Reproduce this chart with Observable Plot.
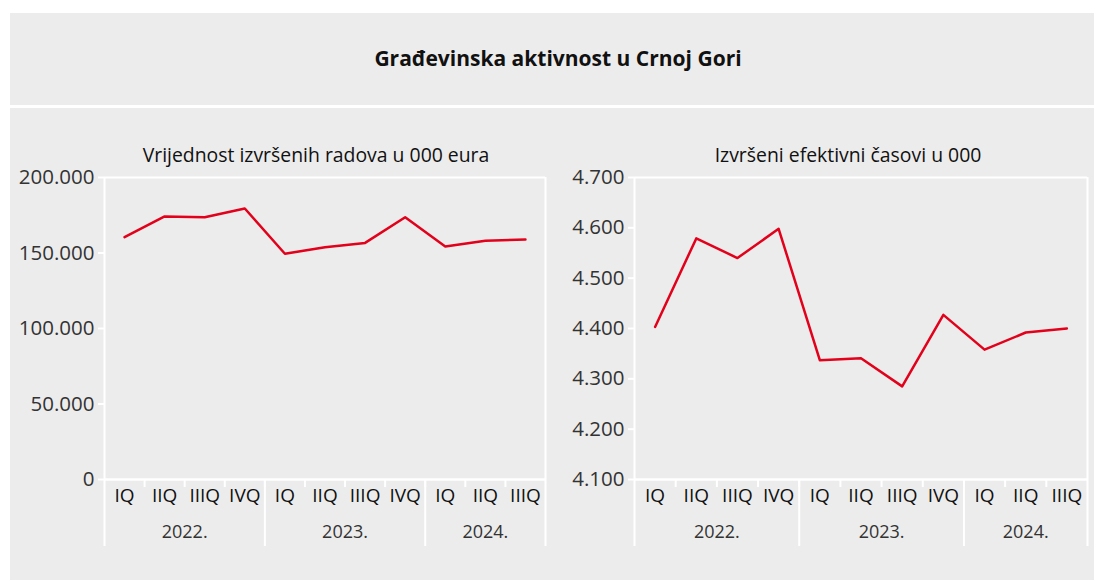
<!DOCTYPE html>
<html>
<head>
<meta charset="utf-8">
<script src="https://cdn.jsdelivr.net/npm/d3@7"></script>
<script src="https://cdn.jsdelivr.net/npm/@observablehq/plot@0.6"></script>
<style>
  html, body { margin: 0; padding: 0; background: #ffffff; }
  #page { position: relative; width: 1094px; height: 581px; overflow: hidden; font-family: 'Open Sans', sans-serif; }
  .box { position: absolute; background: #ececec; }
  .title { position: absolute; text-align: center; font-weight: 700; font-size: 21px; color: #111; }
  .sub { position: absolute; text-align: center; font-size: 19.4px; color: #111; }
  .chart { position: absolute; }
</style>
</head>
<body>
<div id="page">
  <div class="box" style="left:10px; top:13px; width:1084px; height:92px;"></div>
  <div class="box" style="left:10px; top:108px; width:1084px; height:472px;"></div>
  <div class="title" style="left:308px; width:500px; top:44px;">Građevinska aktivnost u Crnoj Gori</div>
  <div class="sub" style="left:66px; width:500px; top:141px;">Vrijednost izvršenih radova u 000 eura</div>
  <div class="sub" style="left:598px; width:500px; top:141px;">Izvršeni efektivni časovi u 000</div>
  <div id="left" class="chart" style="left:0px; top:165px;"></div>
  <div id="right" class="chart" style="left:560px; top:165px;"></div>
</div>
<script>
// ---- data ----
const quarters = ["IQ", "IIQ", "IIIQ", "IVQ", "IQ", "IIQ", "IIIQ", "IVQ", "IQ", "IIQ", "IIIQ"];
const yearOfQuarter = [0, 0, 0, 0, 1, 1, 1, 1, 2, 2, 2];
const years = ["2022.", "2023.", "2024."];
const vrijednostRadova = [160500, 174200, 173700, 179500, 149500, 153800, 156700, 173700, 154300, 158100, 158900];
const efektivniCasovi = [4403, 4579, 4540, 4598, 4337, 4341, 4285, 4427, 4358, 4392, 4400];
const ticksLeft = [0, 50000, 100000, 150000, 200000];
const ticksRight = [4100, 4200, 4300, 4400, 4500, 4600, 4700];

// ---- helpers ----
const n = quarters.length;
const fmt = d => d3.format(",")(d).replace(/,/g, ".");
const quarterBounds = d3.range(n - 1).map(i => i + 0.5);
const yearBounds = quarterBounds.filter(b => yearOfQuarter[b - 0.5] !== yearOfQuarter[b + 0.5]);
const yearRows = years.map((y, k) => ({
  y,
  c: d3.mean(d3.range(n).filter(i => yearOfQuarter[i] === k))
}));
const red = "#e2001a";

function makeChart(values, yDomain, yTicks, width, marginLeft, marginRight) {
  const height = 390, marginTop = 12, marginBottom = 76;
  const plotH = height - marginTop - marginBottom;
  const ext = 67;
  const rows = values.map((v, i) => ({ i, v, q: quarters[i] }));
  return Plot.plot({
    width, height, marginTop, marginBottom, marginLeft, marginRight,
    style: { background: "transparent", fontFamily: "'Open Sans', sans-serif", fontSize: "18px", color: "#333", overflow: "visible" },
    x: { domain: [-0.5, n - 0.5], axis: null },
    y: { domain: yDomain, axis: null },
    marks: [
      Plot.ruleY([yDomain[1]], { stroke: "white", strokeWidth: 2 }),
      Plot.ruleY([yDomain[0]], { stroke: "white", strokeWidth: 2.5 }),
      Plot.ruleX([-0.5, n - 0.5], { stroke: "white", strokeWidth: 2, insetBottom: -ext }),
      Plot.ruleX(yearBounds, { stroke: "white", strokeWidth: 2, insetTop: plotH, insetBottom: -ext }),
      Plot.ruleX(quarterBounds, { stroke: "white", strokeWidth: 2, insetTop: plotH, insetBottom: -8 }),
      Plot.axisY({ ticks: yTicks, label: null, tickSize: 6, tickPadding: 4, stroke: "white", strokeWidth: 2, fill: "#333", fontSize: 20.5, tickFormat: fmt }),
      Plot.line(rows, { x: "i", y: "v", stroke: red, strokeWidth: 2.5 }),
      Plot.text(rows, { x: "i", text: "q", frameAnchor: "bottom", dy: 22, fill: "#111", fontSize: 19 }),
      Plot.text(yearRows, { x: "c", text: "y", frameAnchor: "bottom", dy: 58, fill: "#333", fontSize: 18 })
    ]
  });
}

document.getElementById("left").append(makeChart(vrijednostRadova, [0, 200000], ticksLeft, 560, 104, 15));
document.getElementById("right").append(makeChart(efektivniCasovi, [4100, 4700], ticksRight, 534, 74, 7));
</script>
</body>
</html>
